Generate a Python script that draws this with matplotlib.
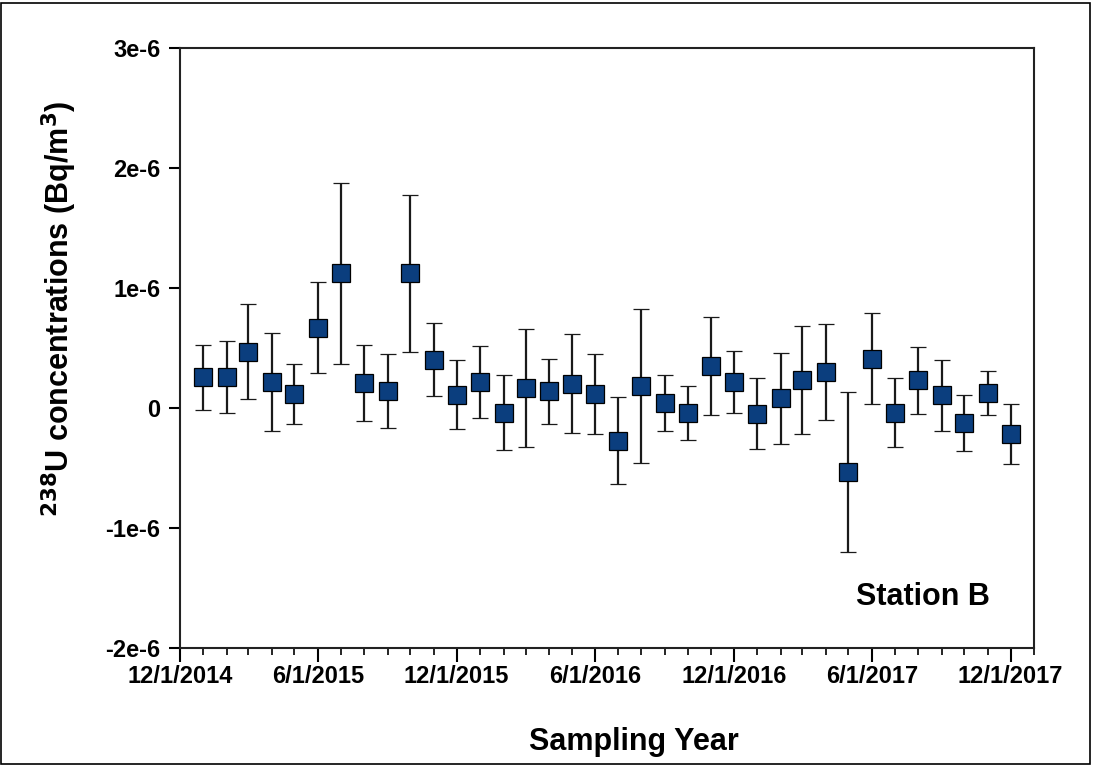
import matplotlib
matplotlib.use("Agg")
import matplotlib.pyplot as plt
import matplotlib.dates as mdates
from matplotlib.ticker import FuncFormatter
from matplotlib.patches import Rectangle
import numpy as np
import datetime as dt

# Sampling months (first of each month, Jan 2015 .. Dec 2017)
months = [dt.date(2015 + (i // 12), (i % 12) + 1, 1) for i in range(36)]

# 238U concentrations (Bq/m^3), values in units of 1e-6
conc = [0.256, 0.256, 0.469, 0.219, 0.117, 0.669, 1.122, 0.208, 0.142, 1.122,
        0.403, 0.111, 0.214, -0.039, 0.167, 0.139, 0.203, 0.117, -0.272, 0.181,
        0.042, -0.042, 0.350, 0.214, -0.047, 0.081, 0.233, 0.300, -0.536, 0.411,
        -0.039, 0.233, 0.108, -0.128, 0.125, -0.214]
err = [0.270, 0.300, 0.395, 0.410, 0.250, 0.380, 0.755, 0.320, 0.310, 0.655,
       0.307, 0.285, 0.300, 0.310, 0.490, 0.270, 0.410, 0.330, 0.360, 0.640,
       0.236, 0.228, 0.410, 0.258, 0.293, 0.380, 0.453, 0.396, 0.666, 0.380,
       0.286, 0.279, 0.296, 0.234, 0.183, 0.249]

yticks = [-2e-6, -1e-6, 0, 1e-6, 2e-6, 3e-6]
ytick_labels = ["-2e-6", "-1e-6", "0", "1e-6", "2e-6", "3e-6"]

scale = 1e-6
yv = np.array(conc) * scale
ye = np.array(err) * scale

FONT = "Liberation Sans"
plt.rcParams["font.family"] = FONT
plt.rcParams["font.weight"] = "bold"

fig = plt.figure(figsize=(10.93, 7.65), dpi=100)
ax = fig.add_axes([180 / 1093, 1 - 648 / 765, (1034 - 180) / 1093, 600 / 765])

ax.errorbar(months, yv, yerr=ye, fmt="s", color="#0b3e7e", markersize=13,
            markeredgecolor="black", markeredgewidth=0.9, ecolor="#1a1a1a",
            elinewidth=1.6, capsize=6, capthick=1.6, zorder=3)

ax.set_xlim(dt.date(2014, 12, 1), dt.date(2018, 1, 1))
ax.set_ylim(-2e-6, 3e-6)
ax.set_yticks(yticks)
ax.set_yticklabels(ytick_labels)

ax.xaxis.set_major_locator(mdates.MonthLocator(bymonth=[6, 12], bymonthday=1))
ax.xaxis.set_minor_locator(mdates.MonthLocator(bymonthday=1))

def fmt(x, pos):
    d = mdates.num2date(x)
    return f"{d.month}/{d.day}/{d.year}"

ax.xaxis.set_major_formatter(FuncFormatter(fmt))

for s in ax.spines.values():
    s.set_linewidth(1.5)
    s.set_color("#222222")

ax.tick_params(axis="y", which="major", direction="out", length=8, width=1.5,
               labelsize=17, pad=6)
ax.tick_params(axis="x", which="major", direction="out", length=10, width=1.5,
               labelsize=17, pad=2)
ax.tick_params(axis="x", which="minor", direction="out", length=5, width=1.2)
for lab in ax.get_xticklabels() + ax.get_yticklabels():
    lab.set_fontweight("bold")

ax.set_xlabel("Sampling Year", fontsize=22, fontweight="bold")
ax.xaxis.set_label_coords(0.532, -0.132)
ax.set_ylabel(r"$\mathbf{^{238}}$U concentrations (Bq/m$\mathbf{^{3}}$)",
              fontsize=22, fontweight="bold")
ax.yaxis.set_label_coords(-0.118, 0.565)

ax.text(0.792, 0.085, "Station B", transform=ax.transAxes, fontsize=22,
        fontweight="bold", ha="left", va="center")

fig.patches.append(Rectangle((1 / 1093, 1 / 765), 1089 / 1093, 761 / 765,
                             transform=fig.transFigure, fill=False,
                             edgecolor="black", linewidth=1.2))

fig.savefig("out.png", dpi=100)
